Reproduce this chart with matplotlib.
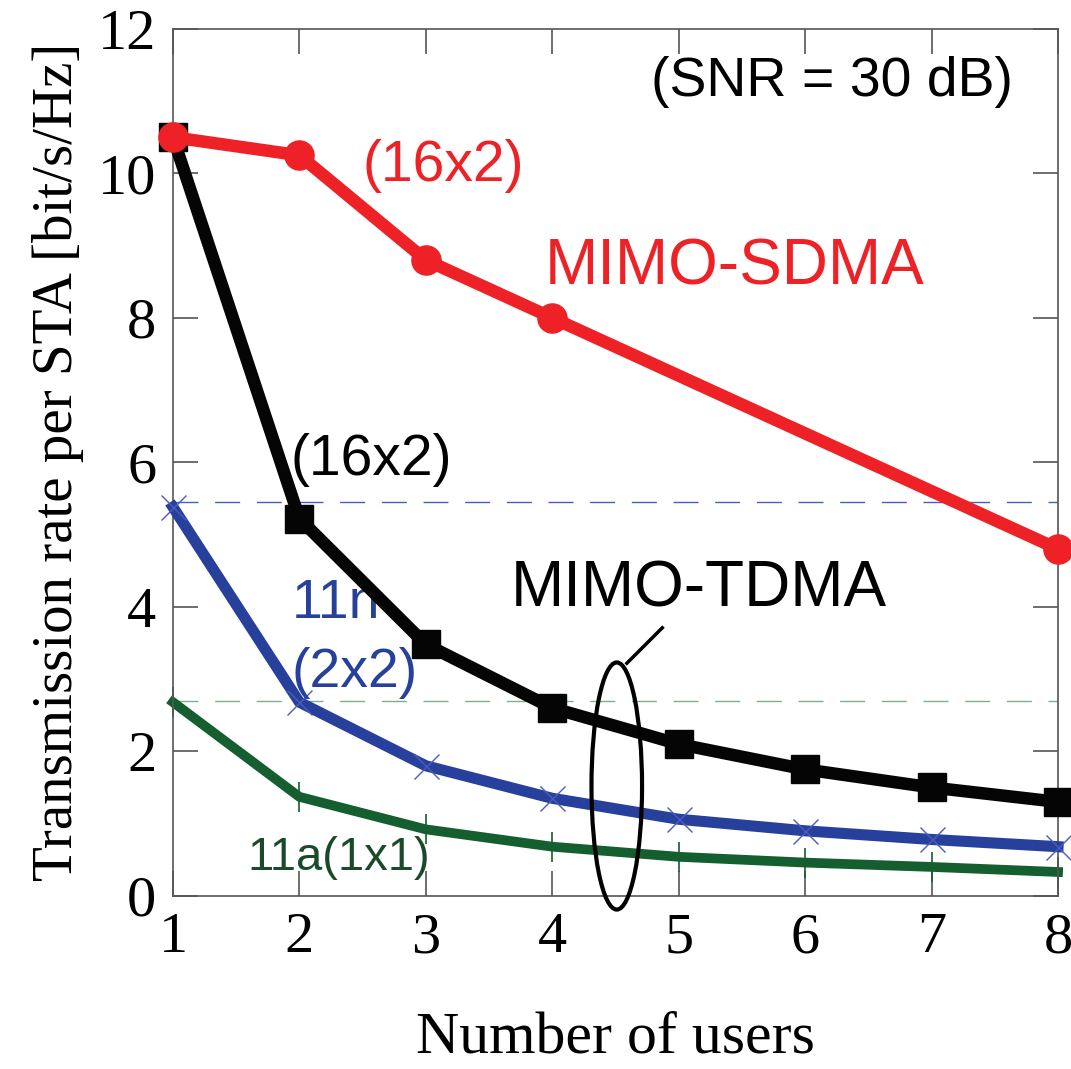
import matplotlib
matplotlib.use('Agg')
import matplotlib.pyplot as plt
from matplotlib.patches import Ellipse

# data
users = [1, 2, 3, 4, 5, 6, 7, 8]
sdma_users = [1, 2, 3, 4, 8]
sdma_rate = [10.5, 10.25, 8.8, 8.0, 4.8]
tdma_rate = [10.5, 5.22, 3.48, 2.6, 2.1, 1.75, 1.5, 1.3]
n11_rate = [5.38, 2.68, 1.8, 1.35, 1.06, 0.9, 0.78, 0.68]
a11_rate = [2.68, 1.37, 0.92, 0.68, 0.54, 0.46, 0.4, 0.33]
n11_peak = 5.45
a11_peak = 2.69

red = '#ee2226'
blue = '#27409b'
green = '#145e2f'
serif = 'Liberation Serif'
sans = 'Liberation Sans'

fig = plt.figure(figsize=(10.71, 10.69), dpi=100)
ax = fig.add_axes([0.1615, 0.162, 0.8264, 0.811])

# reference dashed levels
ax.axhline(n11_peak, color='#4a5cc0', lw=1.0, dashes=(18, 12), zorder=1)
ax.axhline(a11_peak, color='#7fae8c', lw=1.0, dashes=(18, 12), zorder=1)

ax.plot(users, a11_rate, color=green, lw=7, marker='|', ms=22, mew=1.2,
        zorder=2, clip_on=False)
ax.plot(users, n11_rate, color=blue, lw=8, marker='x', ms=18, mew=1.0,
        mec='#4a5cc0', zorder=3, clip_on=False)
ax.plot(users, tdma_rate, color='#050505', lw=9, marker='s', ms=20,
        zorder=4, clip_on=False)
ax.plot(sdma_users, sdma_rate, color=red, lw=9, marker='o', ms=21,
        zorder=5, clip_on=False)

ax.set_xlim(1, 8)
ax.set_ylim(0, 12)
ax.set_xticks(users)
ax.set_yticks(range(0, 13, 2))
ax.tick_params(direction='in', length=18, width=1.2, color='#555555',
               top=True, right=True, labelsize=42, pad=12)
for lbl in ax.get_xticklabels() + ax.get_yticklabels():
    lbl.set_fontfamily(serif)
for sp in ax.spines.values():
    sp.set_color('#555555')
    sp.set_linewidth(1.2)

ax.set_xlabel('Number of users', fontsize=43, fontfamily=serif, labelpad=34)
ax.set_ylabel('Transmission rate per STA [bit/s/Hz]', fontsize=41,
              fontfamily=serif, labelpad=10)

# annotations
ax.text(6.21, 11.27, '(SNR = 30 dB)', fontsize=40, fontfamily=sans,
        ha='center', va='center')
ax.text(3.14, 10.1, '(16x2)', fontsize=41, fontfamily=sans, color=red,
        ha='center', va='center')
ax.text(5.44, 8.7, 'MIMO-SDMA', fontsize=46, fontfamily=sans, color=red,
        ha='center', va='center')
ax.text(2.57, 6.03, '(16x2)', fontsize=41, fontfamily=sans,
        ha='center', va='center')
ax.text(5.16, 4.24, 'MIMO-TDMA', fontsize=46, fontfamily=sans,
        ha='center', va='center')
ax.text(1.94, 4.04, '11n', fontsize=40, fontfamily=sans, color=blue,
        ha='left', va='center')
ax.text(1.94, 3.09, '(2x2)', fontsize=40, fontfamily=sans, color=blue,
        ha='left', va='center')
ax.text(1.585, 0.53, '11a(1x1)', fontsize=34, fontfamily=sans, color='#1a4a2a',
        ha='left', va='center')

ell = Ellipse((4.51, 1.52), 0.40, 3.42, fill=False, ec='black', lw=3,
              clip_on=False, zorder=6)
ax.add_patch(ell)
ax.plot([4.59, 4.87], [3.22, 3.71], color='black', lw=2.5, clip_on=False,
        zorder=6)

fig.savefig('out.png', dpi=100)
